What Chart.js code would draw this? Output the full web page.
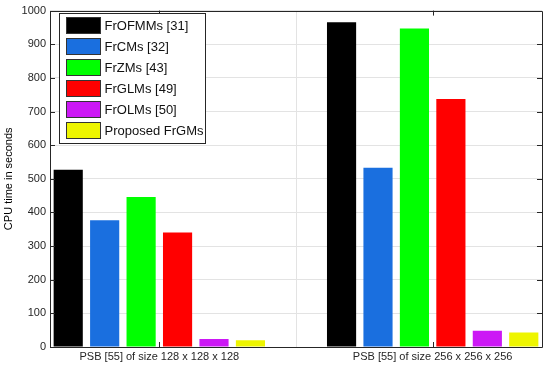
<!DOCTYPE html>
<html>
<head>
<meta charset="utf-8">
<script src="https://cdn.jsdelivr.net/npm/chart.js@4"></script>
<style>
html,body{margin:0;padding:0;background:#fff;}
canvas{display:block;}
</style>
</head>
<body>
<canvas id="c" width="550" height="365"></canvas>
<script>
const categories = ['PSB [55] of size 128 x 128 x 128', 'PSB [55] of size 256 x 256 x 256'];
const seriesNames = ['FrOFMMs [31]', 'FrCMs [32]', 'FrZMs [43]', 'FrGLMs [49]', 'FrOLMs [50]', 'Proposed FrGMs'];
const seriesColors = ['#000000', '#1a6fdf', '#00ff00', '#ff0000', '#cc18f5', '#eef500'];
const frofmms = [527, 965];
const frcms = [377, 533];
const frzms = [446, 947];
const frglms = [340, 737];
const frolms = [24, 48];
const frgms = [20, 43];
const yTicks = [0, 100, 200, 300, 400, 500, 600, 700, 800, 900, 1000];

const seriesValues = [frofmms, frcms, frzms, frglms, frolms, frgms];
const axisColor = '#262626';
const fontFam = '"Liberation Sans", Arial, sans-serif';

const datasets = seriesValues.map((vals, i) => ({
  label: seriesNames[i],
  data: vals.map((v, j) => ({x: j + 1, y: v})),
  backgroundColor: seriesColors[i],
  borderWidth: 0,
  categoryPercentage: 0.8,
  barPercentage: 0.8
}));

const framePlugin = {
  id: 'frame',
  afterDraw(chart) {
    const ctx = chart.ctx;
    const a = chart.chartArea;
    const xs = chart.scales.x, ys = chart.scales.y;
    ctx.save();
    ctx.strokeStyle = axisColor;
    ctx.lineWidth = 1;
    ctx.beginPath();
    ctx.rect(Math.round(a.left) + 0.5, Math.round(a.top) + 0.5, Math.round(a.right - a.left), Math.round(a.bottom - a.top));
    ctx.stroke();
    ctx.beginPath();
    yTicks.forEach(v => {
      const y = Math.round(ys.getPixelForValue(v)) + 0.5;
      ctx.moveTo(a.left, y); ctx.lineTo(a.left + 5, y);
      ctx.moveTo(a.right, y); ctx.lineTo(a.right - 5, y);
    });
    categories.forEach((c, i) => {
      const x = Math.round(xs.getPixelForValue(i + 1)) + 0.5;
      ctx.moveTo(x, a.bottom); ctx.lineTo(x, a.bottom - 5);
      ctx.moveTo(x, a.top); ctx.lineTo(x, a.top + 5);
    });
    ctx.stroke();

    // legend
    const lx = Math.round(a.left) + 9.5, ly = Math.round(a.top) + 2.5;
    const lw = 146, lh = 130;
    ctx.fillStyle = '#ffffff';
    ctx.fillRect(lx, ly, lw, lh);
    ctx.strokeStyle = axisColor;
    ctx.strokeRect(lx, ly, lw, lh);
    ctx.font = '13px ' + fontFam;
    ctx.textBaseline = 'middle';
    ctx.textAlign = 'left';
    chart.data.datasets.forEach((ds, i) => {
      const cy = ly + 12 + i * 21;
      ctx.fillStyle = ds.backgroundColor;
      ctx.fillRect(lx + 7, cy - 8, 34, 16);
      ctx.strokeStyle = '#333333';
      ctx.strokeRect(lx + 7, cy - 8, 34, 16);
      ctx.fillStyle = '#111111';
      ctx.fillText(ds.label, lx + 45, cy + 1);
    });
    ctx.restore();
  }
};

new Chart(document.getElementById('c'), {
  type: 'bar',
  data: { datasets },
  plugins: [framePlugin],
  options: {
    responsive: false,
    animation: false,
    devicePixelRatio: 1,
    layout: { padding: { top: 7, right: 8, left: 0, bottom: 0 } },
    plugins: { legend: { display: false }, tooltip: { enabled: false } },
    scales: {
      x: {
        type: 'linear',
        min: 0.6,
        max: 2.4,
        offset: false,
        afterBuildTicks: s => { s.ticks = categories.map((c, i) => ({ value: i + 1 })); },
        afterFit: s => { s.height = 18; },
        ticks: {
          callback: v => categories[Math.round(v) - 1] || '',
          font: { family: fontFam, size: 11 },
          color: axisColor,
          padding: 3,
          maxRotation: 0,
          autoSkip: false
        },
        grid: { color: '#e3e3e3', drawTicks: false },
        border: { display: false }
      },
      y: {
        min: 0,
        max: 1000,
        afterBuildTicks: s => { s.ticks = yTicks.map(v => ({ value: v })); },
        afterFit: s => { s.width = 50; },
        ticks: {
          callback: v => String(v),
          font: { family: fontFam, size: 11 },
          color: axisColor,
          padding: 4
        },
        grid: { color: '#e3e3e3', drawTicks: false },
        border: { display: false },
        title: {
          display: true,
          text: 'CPU time in seconds',
          color: '#000000',
          font: { family: fontFam, size: 11 },
          padding: { top: 2, bottom: 0 }
        }
      }
    }
  }
});
</script>
</body>
</html>
